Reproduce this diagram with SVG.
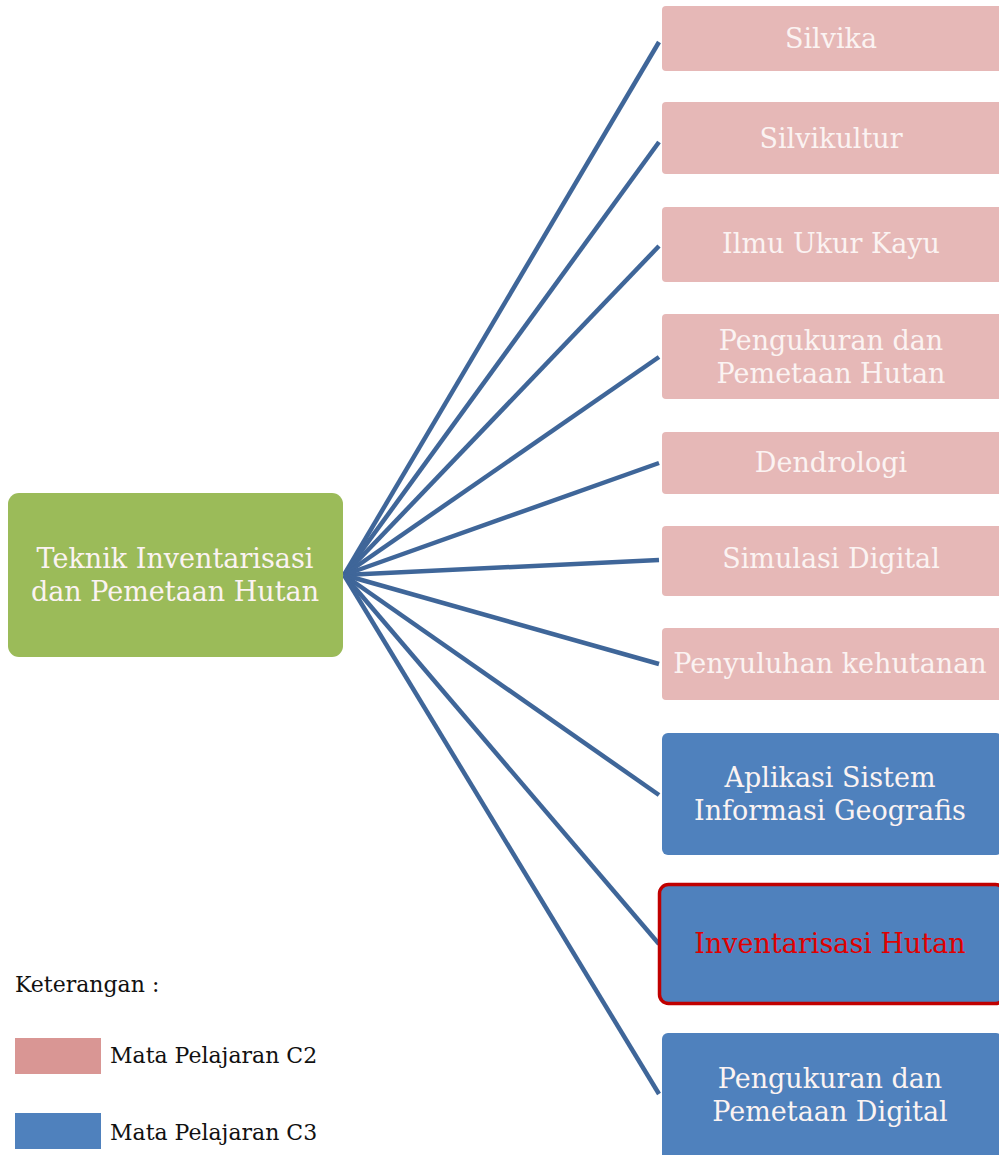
<svg xmlns="http://www.w3.org/2000/svg" width="999" height="1155" viewBox="0 0 999 1155">
<style>
.t{font-family:"DejaVu Serif",serif;font-size:27px;fill:#FBF3F2;text-anchor:middle}
.pink{fill:#E6B8B7}
.blue{fill:#4F81BD}
.leg{font-family:"DejaVu Serif",serif;font-size:22px;fill:#111}
.con line{stroke:#3F6699;stroke-width:4.5;stroke-linecap:butt}
</style>
<rect width="999" height="1155" fill="#fff"/>
<g class="con" id="connectors">
<line x1="344" y1="575" x2="659" y2="42"/>
<line x1="344" y1="575" x2="659" y2="142"/>
<line x1="344" y1="575" x2="659" y2="246"/>
<line x1="344" y1="575" x2="659" y2="357"/>
<line x1="344" y1="575" x2="659" y2="463"/>
<line x1="344" y1="575" x2="659" y2="560"/>
<line x1="344" y1="575" x2="659" y2="664"/>
<line x1="344" y1="575" x2="659" y2="795"/>
<line x1="344" y1="575" x2="659" y2="944"/>
<line x1="344" y1="575" x2="659" y2="1094"/>
</g>
<g id="root">
<rect x="8" y="493" width="335" height="164" rx="11" fill="#9BBB59"/>
<text class="t" x="175" y="568">Teknik Inventarisasi</text>
<text class="t" x="175" y="601">dan Pemetaan Hutan</text>
</g>
<g id="n1"><rect class="pink" x="662" y="6" width="340" height="65" rx="4"/><text class="t" x="831" y="48">Silvika</text></g>
<g id="n2"><rect class="pink" x="662" y="102" width="340" height="72" rx="4"/><text class="t" x="831" y="148">Silvikultur</text></g>
<g id="n3"><rect class="pink" x="662" y="207" width="340" height="75" rx="4"/><text class="t" x="831" y="253">Ilmu Ukur Kayu</text></g>
<g id="n4"><rect class="pink" x="662" y="314" width="340" height="85" rx="4"/><text class="t" x="831" y="350">Pengukuran dan</text><text class="t" x="831" y="383">Pemetaan Hutan</text></g>
<g id="n5"><rect class="pink" x="662" y="432" width="340" height="62" rx="4"/><text class="t" x="831" y="472">Dendrologi</text></g>
<g id="n6"><rect class="pink" x="662" y="526" width="340" height="70" rx="4"/><text class="t" x="831" y="568">Simulasi Digital</text></g>
<g id="n7"><rect class="pink" x="662" y="628" width="340" height="72" rx="4"/><text class="t" x="830" y="673">Penyuluhan kehutanan</text></g>
<g id="n8"><rect class="blue" x="662" y="733" width="340" height="122" rx="6"/><text class="t" x="830" y="787">Aplikasi Sistem</text><text class="t" x="830" y="820">Informasi Geografis</text></g>
<g id="n9"><rect class="blue" x="659.5" y="884.5" width="345" height="119" rx="9" stroke="#C00000" stroke-width="3.5"/><text class="t" x="830" y="953" style="fill:#E00000">Inventarisasi Hutan</text></g>
<g id="n10"><rect class="blue" x="662" y="1033" width="340" height="130" rx="6"/><text class="t" x="830" y="1088">Pengukuran dan</text><text class="t" x="830" y="1121">Pemetaan Digital</text></g>
<g id="legend">
<text class="leg" x="15" y="992">Keterangan :</text>
<rect x="15" y="1038" width="86" height="36" fill="#D99694"/>
<text class="leg" x="110" y="1063">Mata Pelajaran C2</text>
<rect x="15" y="1113" width="86" height="36" fill="#4F81BD"/>
<text class="leg" x="110" y="1140">Mata Pelajaran C3</text>
</g>
</svg>
